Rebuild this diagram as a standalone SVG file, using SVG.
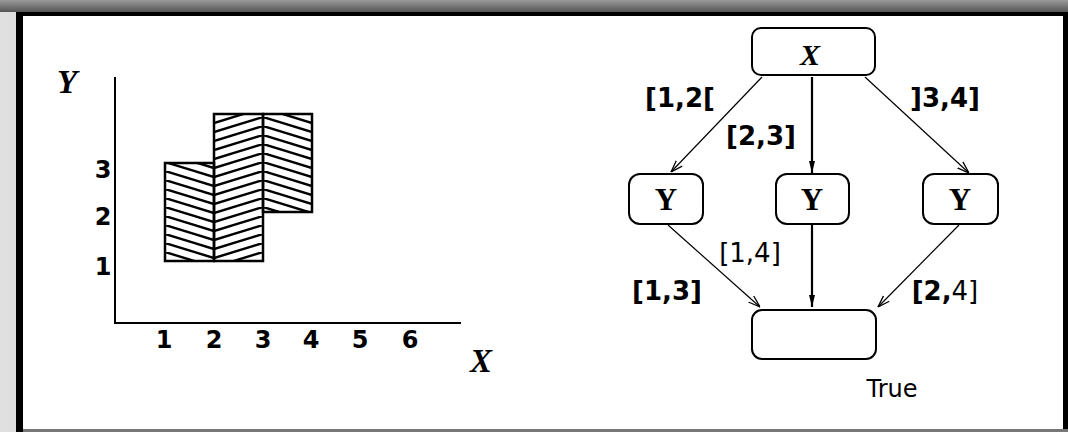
<svg xmlns="http://www.w3.org/2000/svg" width="1068" height="432" viewBox="0 0 1068 432">
<defs>
<linearGradient id="gl" x1="0" y1="0" x2="1" y2="0"><stop offset="0" stop-color="#e0e0e0"/><stop offset="1" stop-color="#6a6a6a"/></linearGradient>
<linearGradient id="gt" x1="0" y1="0" x2="0" y2="1"><stop offset="0" stop-color="#9a9a9a"/><stop offset="1" stop-color="#555"/></linearGradient>
<pattern id="hd" patternUnits="userSpaceOnUse" x="165" y="0" width="49" height="9">
<path d="M0,-9 L49,6 M0,0 L49,15" stroke="#000" stroke-width="2.4"/>
</pattern>
<pattern id="hu" patternUnits="userSpaceOnUse" x="214" y="0" width="49" height="9">
<path d="M0,6 L49,-9 M0,15 L49,0" stroke="#000" stroke-width="2.4"/>
</pattern>
<pattern id="hd2" patternUnits="userSpaceOnUse" x="263" y="0" width="49" height="9">
<path d="M0,-9 L49,6 M0,0 L49,15" stroke="#000" stroke-width="2.4"/>
</pattern>
<marker id="ah" viewBox="0 0 12 10" refX="12" refY="5" markerWidth="12" markerHeight="10" markerUnits="userSpaceOnUse" orient="auto">
<path d="M0,1 L12,5 L0,9" fill="none" stroke="#000" stroke-width="1.3"/>
</marker>
<marker id="ahb" viewBox="0 0 12 8" refX="12" refY="4" markerWidth="12" markerHeight="8" markerUnits="userSpaceOnUse" orient="auto">
<path d="M0,1 L12,4 L0,7 Z" fill="#000"/>
</marker>
</defs>
<style>
.node{fill:#fff;stroke:#000;stroke-width:2}
.tick{font-family:"DejaVu Sans",sans-serif;font-weight:bold;font-size:24px;text-anchor:middle}
.ax{font-family:"Liberation Serif",serif;font-weight:bold;font-style:italic;font-size:33px;text-anchor:middle}
.nl{font-family:"Liberation Serif",serif;font-weight:bold;font-size:31px;text-anchor:middle}
.lab{font-family:"DejaVu Sans",sans-serif;font-weight:bold;font-size:26px;text-anchor:middle}
.labn{font-family:"DejaVu Sans",sans-serif;font-weight:normal;font-size:26px;text-anchor:middle}
.thin{stroke:#000;stroke-width:1.2;fill:none;marker-end:url(#ah)}
.thick{stroke:#000;stroke-width:2.2;fill:none;marker-end:url(#ahb)}
</style>
<!-- frame -->
<rect x="0" y="0" width="1068" height="432" fill="url(#gl)"/>
<rect x="0" y="0" width="1068" height="12" fill="url(#gt)"/>
<rect x="16" y="12" width="1052" height="420" fill="#000"/>
<rect x="23" y="16" width="1040" height="413" fill="#fff"/>
<rect x="23" y="429" width="1045" height="3" fill="#777"/>
<!-- left chart -->
<g id="chart">
<rect x="165" y="163" width="49" height="98" fill="url(#hd)" stroke="#000" stroke-width="2.5"/>
<rect x="214" y="114" width="49" height="147" fill="url(#hu)" stroke="#000" stroke-width="2.5"/>
<rect x="263" y="114" width="49" height="98" fill="url(#hd2)" stroke="#000" stroke-width="2.5"/>
<path d="M115,77 L115,323 L461,323" fill="none" stroke="#000" stroke-width="2"/>
<text class="tick" x="103" y="178">3</text>
<text class="tick" x="103" y="225">2</text>
<text class="tick" x="103" y="275">1</text>
<text class="tick" x="164" y="348">1</text>
<text class="tick" x="214" y="348">2</text>
<text class="tick" x="263" y="348">3</text>
<text class="tick" x="311" y="348">4</text>
<text class="tick" x="360" y="348">5</text>
<text class="tick" x="410" y="348">6</text>
<text class="ax" x="67" y="93">Y</text>
<text class="ax" x="481" y="372">X</text>
</g>
<!-- connectors -->
<g id="connectors">
<line class="thin" x1="762" y1="77" x2="671" y2="172"/>
<line class="thick" x1="812" y1="77" x2="812" y2="173"/>
<line class="thin" x1="865" y1="77" x2="969" y2="173"/>
<line class="thin" x1="668" y1="225" x2="760" y2="307"/>
<line class="thick" x1="812" y1="225" x2="812" y2="307"/>
<line class="thin" x1="959" y1="225" x2="878" y2="307"/>
<text class="lab" x="680" y="107">[1,2[</text>
<text class="lab" x="761" y="145">[2,3]</text>
<text class="lab" x="945" y="107">]3,4]</text>
<text class="labn" x="750" y="262">[1,4]</text>
<text class="lab" x="667" y="300">[1,3]</text>
<text class="lab" x="945" y="300">[2,<tspan font-weight="normal">4]</tspan></text>
</g>
<g id="nodeX">
<rect class="node" x="752" y="28" width="123" height="47" rx="9"/>
<text class="ax" x="810" y="65" style="font-size:30px">X</text>
</g>
<g id="nodeY1">
<rect class="node" x="629" y="174" width="74" height="50" rx="11"/>
<text class="nl" x="666" y="210">Y</text>
</g>
<g id="nodeY2">
<rect class="node" x="776" y="174" width="73" height="50" rx="11"/>
<text class="nl" x="812" y="210">Y</text>
</g>
<g id="nodeY3">
<rect class="node" x="923" y="174" width="75" height="50" rx="11"/>
<text class="nl" x="960" y="210">Y</text>
</g>
<g id="nodeTrue">
<rect class="node" x="752" y="310" width="124" height="49" rx="10"/>
<text x="892" y="397" style="font-family:'DejaVu Sans',sans-serif;font-size:24px;text-anchor:middle">True</text>
</g>
</svg>
